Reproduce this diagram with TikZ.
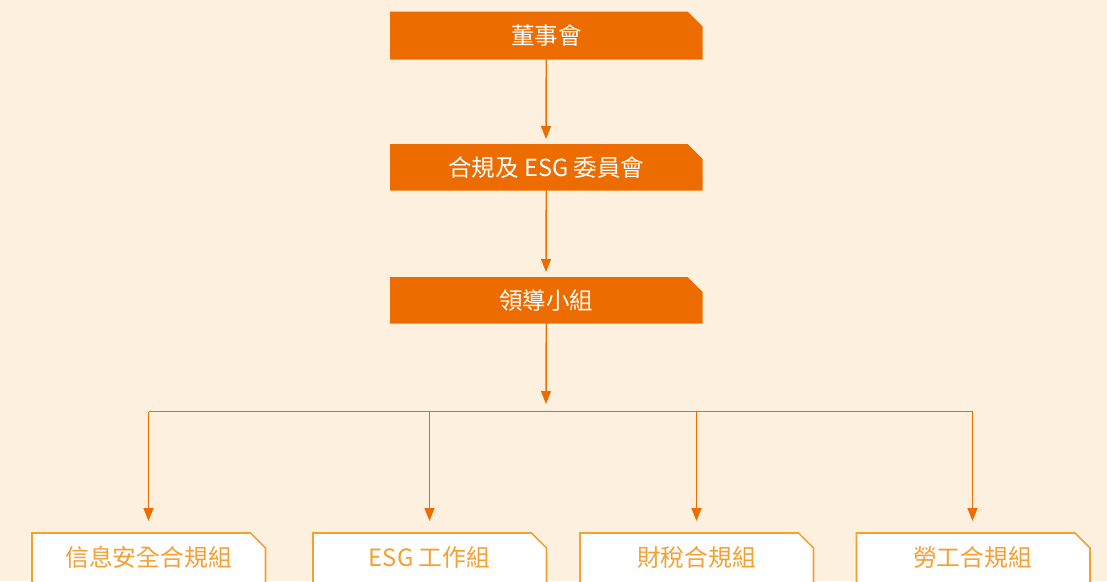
\documentclass[tikz,border=0pt]{standalone}
\usepackage{fontspec}
\setmainfont{Noto Sans CJK TC}
\usetikzlibrary{arrows.meta}
\definecolor{bg}{HTML}{FEF0DF}
\definecolor{dark}{HTML}{ED6C00}
\definecolor{light}{HTML}{F5A033}
\tikzset{
  topbox/.style={fill=dark, draw=none},
  botbox/.style={fill=white, draw=light, line width=1.6pt},
  toptext/.style={text=white, font=\fontsize{23.5}{27}\selectfont},
  bottext/.style={text=light, font=\fontsize{23.8}{27}\selectfont},
  conn/.style={draw=dark, line width=1.4pt, -{Triangle[length=13pt,width=10pt]}},
  plain/.style={draw=dark, line width=1.4pt}
}
\newcommand{\cutbox}[6]{% style, x1, y1, x2, y2, name
  \path[#1] (#2,#3) -- (#4-15,#3) -- (#4,#3+15) -- (#4,#5) -- (#2,#5) -- cycle;
  \coordinate (#6) at ({(#2+#4)/2},{(#3+#5)/2});
  \coordinate (#6-n) at ({(#2+#4)/2},#3);
  \coordinate (#6-s) at ({(#2+#4)/2},#5);
}
\begin{document}
\begin{tikzpicture}[x=1pt,y=-1pt]
\fill[bg] (0,0) rectangle (1107,581);
\useasboundingbox (0,0) rectangle (1107,581);
\cutbox{topbox}{390}{11.5}{702.5}{59.5}{b1}
\cutbox{topbox}{390}{144}{702.5}{190.5}{b2}
\cutbox{topbox}{390}{277}{702.5}{323.5}{b3}
\node[toptext] (t1) at (b1) {董事會};
\node[toptext] (t2) at (b2) {合規及 ESG 委員會};
\node[toptext] (t3) at (b3) {領導小組};
\cutbox{botbox}{32}{533}{265.5}{590}{c1}
\cutbox{botbox}{313}{533}{546.5}{590}{c2}
\cutbox{botbox}{580}{533}{813.5}{590}{c3}
\cutbox{botbox}{856.5}{533}{1090}{590}{c4}
\node[bottext] (u1) at (148.5,557) {信息安全合規組};
\node[bottext] (u2) at (429.5,557) {ESG 工作組};
\node[bottext] (u3) at (696.5,557) {財稅合規組};
\node[bottext] (u4) at (972.5,557) {勞工合規組};
\coordinate (a1) at (546,139);
\coordinate (a2) at (546,272);
\coordinate (a3) at (546,404);
\coordinate (h1) at (148.5,411.5);
\coordinate (h4) at (972.5,411.5);
\draw[conn] (b1-s) -- (a1);
\draw[conn] (b2-s) -- (a2);
\draw[conn] (b3-s) -- (a3);
\draw[plain] (h1) -- (h4);
\foreach \x/\n in {148.5/1,429.5/2,696.5/3,972.5/4}{
  \coordinate (d\n) at (\x,411.5);
  \coordinate (e\n) at (\x,521);
  \draw[conn] (d\n) -- (e\n);
}
\end{tikzpicture}
\end{document}
